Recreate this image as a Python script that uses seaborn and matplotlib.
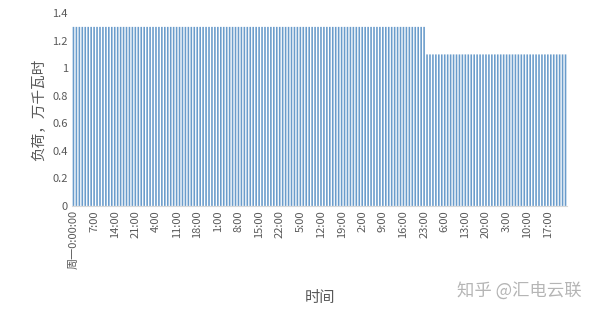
import matplotlib
matplotlib.use("Agg")
import matplotlib.pyplot as plt
import seaborn as sns
import pandas as pd

# ---- data ----
hours = list(range(168))  # hourly, Monday 0:00 through Sunday 23:00
load_weekday = [1.3] * 120   # Mon-Fri
load_weekend = [1.1] * 48    # Sat-Sun
load = load_weekday + load_weekend
tick_labels = ["周一0:00:00", "7:00", "14:00", "21:00", "4:00", "11:00", "18:00", "1:00",
               "8:00", "15:00", "22:00", "5:00", "12:00", "19:00", "2:00", "9:00",
               "16:00", "23:00", "6:00", "13:00", "20:00", "3:00", "10:00", "17:00"]
y_ticks = [0, 0.2, 0.4, 0.6, 0.8, 1, 1.2, 1.4]
y_tick_labels = ["0", "0.2", "0.4", "0.6", "0.8", "1", "1.2", "1.4"]

sns.set_theme(style="white")
plt.rcParams['font.family'] = ['Noto Sans CJK SC', 'DejaVu Sans']

df = pd.DataFrame({"hour": hours, "load": load})

fig, ax = plt.subplots(figsize=(6.0, 3.12), dpi=100)
fig.subplots_adjust(left=0.12, right=0.945, top=0.958, bottom=0.34)

sns.barplot(data=df, x="hour", y="load", color="#6A9CCB", saturation=1,
            width=0.55, ax=ax, linewidth=0)
for p in ax.patches:
    p.set_snap(False)

ax.set_xlim(-0.5, 167.5)
ax.set_ylim(0, 1.4)
ax.set_xticks(list(range(0, 168, 7)))
ax.set_xticklabels(tick_labels, rotation=90, fontsize=8, color="#595959")
ax.set_yticks(y_ticks)
ax.set_yticklabels(y_tick_labels, fontsize=8, color="#595959")
ax.tick_params(axis="both", length=0, pad=3)

ax.set_xlabel("时间", fontsize=11, color="#595959", labelpad=14)
ax.set_ylabel("负荷，万千瓦时", fontsize=10.5, color="#595959", labelpad=4)

for s in ["top", "right", "left"]:
    ax.spines[s].set_visible(False)
ax.spines["bottom"].set_color("#d9d9d9")
ax.spines["bottom"].set_linewidth(0.8)

fig.text(0.865, 0.067, "知乎 @汇电云联", fontsize=12.5, color="#b5b5b5",
         ha="center", va="center")

fig.savefig("out.png", dpi=100)
